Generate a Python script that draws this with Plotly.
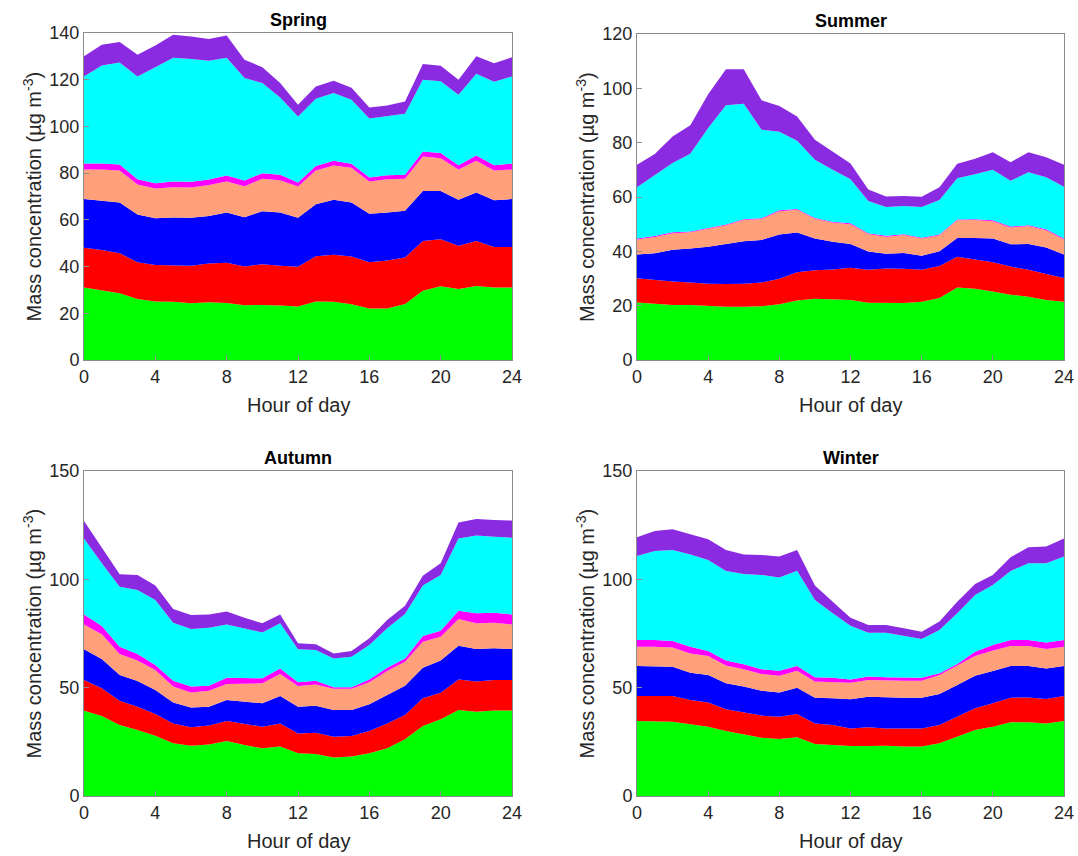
import plotly.graph_objects as go

HOURS = list(range(25))
X_TICKS = [0, 4, 8, 12, 16, 20, 24]
LAYER_NAMES = ["green", "red", "blue", "orange", "magenta", "cyan", "purple"]
LAYER_COLORS = ["#00ff00", "#ff0000", "#0000ff", "#ffa07a", "#ff00ff", "#00ffff", "#8a2be2"]

# Cumulative (stacked) upper boundaries of each layer
spring_green = [31.0, 29.7, 28.6, 26.1, 25.0, 24.9, 24.3, 24.7, 24.4, 23.4, 23.6, 23.3, 22.9, 25.0, 24.9, 23.9, 22.0, 22.0, 24.0, 29.6, 31.6, 30.4, 31.7, 31.0, 31.0]
spring_red = [48.1, 47.1, 45.7, 41.9, 40.7, 40.7, 40.4, 41.3, 41.6, 40.0, 41.0, 40.4, 39.9, 44.4, 45.1, 44.3, 41.9, 42.6, 43.9, 51.0, 51.7, 48.9, 50.9, 48.4, 48.4]
spring_blue = [68.9, 68.3, 67.4, 62.3, 60.7, 61.0, 60.9, 61.7, 63.1, 61.1, 63.7, 63.1, 60.9, 66.7, 68.6, 67.4, 62.6, 63.1, 63.9, 72.4, 72.4, 68.6, 71.7, 68.4, 68.9]
spring_orange = [81.6, 81.6, 81.1, 75.1, 73.4, 74.0, 73.9, 74.9, 76.4, 74.4, 77.6, 77.0, 74.3, 81.1, 83.3, 82.3, 76.4, 77.4, 77.6, 87.1, 86.4, 81.6, 85.3, 81.1, 81.6]
spring_magenta = [84.1, 84.1, 83.7, 77.4, 75.7, 76.4, 76.3, 77.3, 79.0, 76.9, 80.0, 79.3, 76.0, 83.1, 85.3, 84.0, 78.1, 79.1, 79.3, 89.3, 88.6, 83.4, 87.6, 83.4, 84.1]
spring_cyan = [121.4, 126.1, 127.4, 121.4, 125.3, 129.4, 128.9, 128.1, 129.4, 120.7, 118.6, 112.4, 104.3, 111.9, 114.3, 111.4, 103.4, 104.3, 105.4, 120.0, 119.3, 113.6, 122.6, 119.1, 121.4]
spring_purple = [130.0, 135.0, 136.1, 130.7, 134.7, 139.3, 138.5, 137.4, 138.9, 128.6, 125.3, 118.6, 109.3, 117.1, 119.6, 116.6, 108.1, 109.0, 110.7, 126.7, 126.0, 120.0, 130.0, 127.1, 129.6]

summer_green = [21.2, 20.6, 20.2, 20.2, 19.9, 19.6, 19.6, 19.8, 20.5, 21.9, 22.5, 22.3, 22.1, 21.1, 21.1, 21.0, 21.4, 22.8, 26.7, 26.2, 25.2, 24.0, 23.3, 22.1, 21.4]
summer_red = [30.1, 29.4, 28.9, 28.5, 28.1, 28.0, 28.1, 28.5, 29.9, 32.3, 33.0, 33.3, 34.0, 33.2, 33.7, 33.6, 33.2, 34.6, 38.0, 37.0, 36.0, 34.4, 33.2, 31.7, 30.2]
summer_blue = [38.8, 39.3, 40.6, 41.0, 41.7, 42.6, 43.7, 44.2, 46.2, 46.9, 44.7, 43.5, 42.7, 39.9, 39.1, 39.4, 38.4, 40.0, 44.9, 44.9, 44.7, 42.6, 42.7, 41.4, 38.8]
summer_orange = [44.4, 45.3, 46.7, 47.0, 48.3, 49.6, 51.5, 51.9, 54.8, 55.3, 52.0, 50.6, 50.0, 46.4, 45.4, 46.0, 44.7, 45.9, 51.4, 51.5, 51.1, 48.8, 49.3, 47.8, 44.4]
summer_magenta = [44.7, 45.6, 47.0, 47.3, 48.6, 49.9, 51.8, 52.2, 55.1, 55.6, 52.3, 50.9, 50.3, 46.7, 45.7, 46.3, 45.0, 46.2, 51.7, 51.8, 51.4, 49.1, 49.6, 48.1, 44.7]
summer_cyan = [63.6, 68.1, 72.5, 75.9, 85.4, 93.8, 94.3, 84.8, 84.0, 80.7, 73.7, 70.0, 66.5, 58.5, 56.3, 56.7, 56.3, 58.9, 66.9, 68.4, 70.0, 66.0, 69.1, 67.3, 63.8]
summer_purple = [71.9, 75.8, 82.3, 86.4, 97.8, 107.0, 107.0, 95.6, 93.5, 89.6, 81.1, 76.8, 72.3, 62.8, 60.2, 60.4, 60.1, 63.6, 72.2, 74.1, 76.5, 72.8, 76.5, 74.6, 71.9]

autumn_green = [39.4, 36.9, 32.8, 30.5, 27.8, 24.3, 23.2, 23.8, 25.4, 23.5, 22.0, 22.8, 19.7, 19.4, 17.8, 18.2, 19.7, 22.0, 26.2, 32.3, 35.4, 39.7, 38.9, 39.5, 39.5]
autumn_red = [53.5, 49.7, 44.0, 41.2, 37.8, 33.5, 31.7, 32.5, 34.6, 33.2, 32.0, 33.5, 28.9, 29.2, 27.4, 27.7, 30.0, 33.5, 37.4, 45.1, 47.7, 53.8, 52.9, 53.5, 53.5]
autumn_blue = [67.7, 63.2, 55.8, 53.1, 48.9, 43.1, 40.8, 41.2, 44.3, 43.5, 42.8, 46.2, 41.2, 41.7, 39.7, 39.7, 42.3, 46.6, 50.9, 59.2, 62.5, 69.4, 67.8, 68.2, 67.8]
autumn_orange = [79.2, 74.6, 65.5, 62.5, 58.2, 50.5, 47.8, 48.6, 51.7, 51.7, 52.0, 56.3, 50.8, 51.5, 49.5, 49.5, 52.5, 57.7, 62.0, 71.2, 73.5, 81.7, 79.7, 80.0, 79.2]
autumn_magenta = [83.8, 78.5, 68.9, 65.5, 60.5, 53.2, 50.5, 50.9, 54.6, 54.3, 54.3, 58.9, 52.5, 53.2, 50.2, 50.2, 53.8, 59.2, 63.5, 73.8, 76.3, 85.5, 84.3, 84.6, 83.8]
autumn_cyan = [118.9, 107.4, 96.6, 95.1, 90.5, 80.0, 77.1, 77.7, 79.2, 77.4, 75.5, 79.7, 67.7, 67.4, 63.5, 64.3, 69.7, 77.4, 84.0, 97.1, 102.0, 118.9, 120.2, 119.7, 119.2]
autumn_purple = [126.9, 114.3, 102.3, 102.0, 97.1, 86.3, 83.5, 83.8, 85.1, 82.3, 79.7, 83.8, 70.5, 70.0, 65.8, 66.9, 72.8, 81.2, 87.8, 101.7, 107.4, 126.2, 127.8, 127.4, 127.1]

winter_green = [34.6, 34.6, 34.3, 33.1, 32.0, 30.0, 28.5, 26.9, 26.3, 27.1, 24.0, 23.5, 23.1, 23.1, 23.2, 22.8, 22.8, 24.3, 27.4, 30.5, 32.0, 34.0, 34.0, 33.5, 34.6]
winter_red = [46.2, 46.2, 46.2, 44.3, 43.2, 40.0, 38.6, 37.1, 36.6, 37.8, 33.5, 32.8, 31.2, 31.7, 31.2, 31.2, 31.2, 32.8, 36.6, 40.5, 42.8, 45.4, 45.5, 44.8, 46.2]
winter_blue = [60.0, 60.0, 59.7, 56.9, 55.8, 52.0, 50.5, 48.6, 47.8, 50.0, 45.4, 45.1, 44.6, 45.8, 45.5, 45.4, 45.4, 47.1, 51.2, 55.5, 57.7, 60.0, 60.0, 58.8, 60.0]
winter_orange = [68.9, 68.9, 68.5, 65.8, 64.6, 60.2, 58.5, 56.3, 55.5, 57.8, 52.8, 52.5, 52.3, 53.5, 53.2, 53.2, 53.2, 55.8, 60.2, 64.6, 67.1, 69.2, 69.2, 67.8, 68.9]
winter_magenta = [72.0, 72.0, 71.5, 68.9, 66.9, 62.5, 60.8, 58.5, 57.8, 60.0, 54.8, 54.6, 53.8, 55.1, 54.8, 54.6, 54.6, 56.6, 60.9, 66.6, 69.7, 72.0, 72.0, 70.9, 72.0]
winter_cyan = [110.8, 113.1, 113.5, 111.5, 108.9, 103.8, 102.5, 102.0, 100.9, 104.0, 90.5, 84.3, 78.6, 75.4, 75.4, 74.0, 72.5, 76.6, 84.3, 92.8, 97.4, 103.8, 107.4, 107.4, 110.5]
winter_purple = [119.4, 122.3, 123.1, 120.9, 118.5, 113.5, 111.5, 111.2, 110.5, 113.5, 97.1, 89.7, 82.3, 78.9, 78.9, 77.4, 75.8, 80.5, 89.7, 97.8, 102.0, 110.2, 114.8, 115.1, 118.9]

spring_layers = [spring_green, spring_red, spring_blue, spring_orange, spring_magenta, spring_cyan, spring_purple]
summer_layers = [summer_green, summer_red, summer_blue, summer_orange, summer_magenta, summer_cyan, summer_purple]
autumn_layers = [autumn_green, autumn_red, autumn_blue, autumn_orange, autumn_magenta, autumn_cyan, autumn_purple]
winter_layers = [winter_green, winter_red, winter_blue, winter_orange, winter_magenta, winter_cyan, winter_purple]

SEASONS = ["Spring", "Summer", "Autumn", "Winter"]
Y_TICKS = [[0, 20, 40, 60, 80, 100, 120, 140], [0, 20, 40, 60, 80, 100, 120], [0, 50, 100, 150], [0, 50, 100, 150]]
Y_MAX = [140, 120, 150, 150]

W, H = 1078, 856
# panel boxes in pixels: (left, right, top, bottom)
BOXES = [(84, 512, 33, 360), (637, 1064, 34, 360), (84, 512, 471, 796), (637, 1064, 471, 796)]

FONT = "Liberation Sans, Arial, sans-serif"
AXCOL = "#8c8c8c"
TXTCOL = "#262626"

fig = go.Figure()
annotations = []
for i, (name, layers) in enumerate(zip(SEASONS, [spring_layers, summer_layers, autumn_layers, winter_layers])):
    suffix = "" if i == 0 else str(i + 1)
    xa, ya = "x" + suffix, "y" + suffix
    for k, vals in enumerate(layers):
        fig.add_trace(go.Scatter(
            x=HOURS, y=vals, mode="lines", xaxis=xa, yaxis=ya,
            line=dict(width=0, color=LAYER_COLORS[k]),
            fill="tozeroy" if k == 0 else "tonexty",
            fillcolor=LAYER_COLORS[k], name=LAYER_NAMES[k], showlegend=False,
            hoverinfo="skip"))
    l, r, t, b = BOXES[i]
    common = dict(showline=True, mirror=True, linecolor=AXCOL, linewidth=1,
                  ticks="inside", ticklen=5, tickcolor=AXCOL, showgrid=False,
                  zeroline=False, automargin=False,
                  tickfont=dict(family=FONT, size=18, color=TXTCOL))
    fig.update_layout(**{
        ("xaxis" + suffix): dict(domain=[l / W, r / W], anchor=ya, range=[0, 24],
                                 tickvals=X_TICKS, **common),
        ("yaxis" + suffix): dict(domain=[1 - b / H, 1 - t / H], anchor=xa, range=[0, Y_MAX[i]],
                                 tickvals=Y_TICKS[i], **common),
    })
    cx = (l + r) / 2
    annotations.append(dict(text="<b>" + name + "</b>", x=cx / W, y=1 - (t - 13) / H,
                            xref="paper", yref="paper", xanchor="center", yanchor="middle",
                            showarrow=False, font=dict(family=FONT, size=18, color="black")))
    annotations.append(dict(text="Hour of day", x=cx / W, y=1 - (b + 45) / H,
                            xref="paper", yref="paper", xanchor="center", yanchor="middle",
                            showarrow=False, font=dict(family=FONT, size=20, color=TXTCOL)))
    annotations.append(dict(text="Mass concentration (\u00b5g m<sup>-3</sup>)", x=(l - 52) / W,
                            y=1 - ((t + b) / 2) / H, textangle=-90,
                            xref="paper", yref="paper", xanchor="center", yanchor="middle",
                            showarrow=False, font=dict(family=FONT, size=20, color=TXTCOL)))

fig.update_layout(width=W, height=H, margin=dict(l=0, r=0, t=0, b=0, autoexpand=False),
                  paper_bgcolor="white", plot_bgcolor="white",
                  annotations=annotations, showlegend=False)

fig.write_html("out.html", config={"displayModeBar": False, "staticPlot": True},
               post_script="document.body.style.margin='0px';document.body.style.overflow='hidden';")
